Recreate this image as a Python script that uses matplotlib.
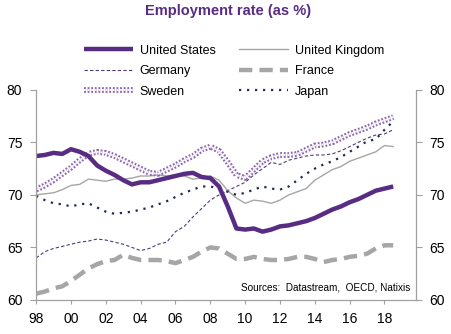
import numpy as np
import matplotlib
matplotlib.use("Agg")
import matplotlib.pyplot as plt
import matplotlib.patheffects as pe

plt.rcParams['font.family'] = ['Liberation Sans', 'DejaVu Sans']

# semi-annual points, 1998.0 -> 2018.5
years = np.arange(1998.0, 2019.0, 0.5)

us = [73.7, 73.8, 74.0, 73.9, 74.35, 74.1, 73.7, 72.8, 72.3, 71.9,
      71.4, 71.0, 71.2, 71.2, 71.4, 71.6, 71.8, 72.0, 72.1, 71.7,
      71.6, 70.8, 68.9, 66.8, 66.7, 66.8, 66.5, 66.7, 67.0, 67.1,
      67.3, 67.5, 67.8, 68.2, 68.6, 68.9, 69.3, 69.6, 70.0, 70.4,
      70.6, 70.8]
uk = [70.0, 70.1, 70.2, 70.5, 70.9, 71.0, 71.5, 71.4, 71.3, 71.5,
      71.5, 71.6, 71.8, 71.8, 71.9, 71.8, 71.9, 71.8, 71.5, 71.6,
      71.8, 71.4, 70.4, 69.7, 69.2, 69.5, 69.4, 69.2, 69.5, 70.0,
      70.3, 70.6, 71.4, 71.9, 72.4, 72.7, 73.2, 73.5, 73.8, 74.1,
      74.7, 74.6]
germany = [64.0, 64.6, 64.9, 65.1, 65.3, 65.5, 65.6, 65.8, 65.7, 65.5,
           65.3, 65.0, 64.7, 64.9, 65.3, 65.5, 66.5, 67.0, 67.9, 68.7,
           69.5, 70.0, 70.4, 70.8, 71.2, 71.9, 72.5, 73.1, 72.9, 73.3,
           73.5, 73.7, 73.8, 73.8, 73.9, 74.2, 74.6, 75.0, 75.4, 75.7,
           75.8, 76.2]
france = [60.6, 60.8, 61.1, 61.3, 61.8, 62.4, 63.0, 63.4, 63.7, 63.8,
          64.3, 64.0, 63.8, 63.8, 63.8, 63.7, 63.5, 63.8, 64.1, 64.6,
          65.0, 64.9, 64.4, 63.9, 63.9, 64.1, 63.9, 63.8, 63.8, 63.9,
          64.1, 64.1, 63.9, 63.6, 63.8, 63.9, 64.1, 64.2, 64.4, 64.9,
          65.2, 65.2]
sweden = [70.5, 70.9, 71.4, 72.0, 72.6, 73.3, 73.9, 74.1, 74.0, 73.7,
          73.3, 72.9, 72.5, 72.1, 72.0, 72.4, 72.8, 73.3, 73.7, 74.3,
          74.6, 74.2, 73.1, 71.9, 71.6, 72.4, 73.2, 73.6, 73.8, 73.8,
          73.9, 74.3, 74.7, 74.8, 75.0, 75.4, 75.8, 76.1, 76.4, 76.8,
          77.1, 77.4]
japan = [69.9, 69.5, 69.2, 69.1, 68.9, 69.1, 69.2, 68.8, 68.4, 68.2,
         68.3, 68.4, 68.6, 68.8, 69.1, 69.4, 69.8, 70.2, 70.5, 70.8,
         70.8, 70.6, 70.3, 70.0, 70.2, 70.5, 70.8, 70.6, 70.5, 70.8,
         71.4, 72.0, 72.5, 72.9, 73.2, 73.6, 74.1, 74.6, 75.1, 75.3,
         76.2, 77.0]

xticks = np.arange(1998, 2019, 2)
xlabels = ['98', '00', '02', '04', '06', '08', '10', '12', '14', '16', '18']
yticks = [60, 65, 70, 75, 80]

purple = '#582C83'
grey = '#A6A6A6'
axis_col = '#A0A0A0'

fig = plt.figure(figsize=(4.52, 3.34), dpi=100)
ax = fig.add_axes([0.080, 0.102, 0.840, 0.629])

h_fr, = ax.plot(years, france, color=grey, lw=3.2, ls=(0, (3, 1.6)),
                label='France')
h_de, = ax.plot(years, germany, color='#4E3A7A', lw=0.8, ls=(0, (3, 2)),
                label='Germany')
h_uk, = ax.plot(years, uk, color=grey, lw=1.0, label='United Kingdom')
h_jp, = ax.plot(years, japan, color='#1F2A55', lw=1.6, ls=(0, (1, 2.6)),
                label='Japan')
h_se, = ax.plot(years, sweden, color='white', lw=1.3, ls=(0, (1, 1)),
                label='Sweden',
                path_effects=[pe.Stroke(linewidth=4.2, foreground='#8E66B0'),
                              pe.Normal()])
h_us, = ax.plot(years, us, color=purple, lw=3.2, label='United States',
                solid_capstyle='butt')

ax.set_xlim(1998, 2019.8)
ax.set_ylim(60, 80)
ax.set_xticks(xticks)
ax.set_xticklabels(xlabels, fontsize=10)
ax.set_yticks(yticks)
ax.tick_params(axis='y', labelsize=10, length=4, color=axis_col, pad=6)
ax.tick_params(axis='x', length=3, color=axis_col, pad=6)
ax.spines['top'].set_visible(False)
for s in ['left', 'bottom', 'right']:
    ax.spines[s].set_color(axis_col)
    ax.spines[s].set_linewidth(0.9)

ax2 = ax.twinx()
ax2.set_ylim(60, 80)
ax2.set_yticks(yticks)
ax2.tick_params(axis='y', labelsize=10, length=4, color=axis_col, pad=6)
for s in ax2.spines.values():
    s.set_visible(False)

ax.text(0.985, 0.035, 'Sources:  Datastream,  OECD, Natixis', fontsize=7.2,
        ha='right', va='bottom', transform=ax.transAxes)

fig.text(0.505, 0.968, 'Employment rate (as %)', ha='center', va='center',
         fontsize=10.5, fontweight='bold', color=purple)

fig.legend(handles=[h_us, h_de, h_se, h_uk, h_fr, h_jp], ncol=2,
           loc='upper left', bbox_to_anchor=(0.172, 0.885), frameon=False,
           fontsize=9, handlelength=3.9, handletextpad=0.55,
           columnspacing=1.9, labelspacing=0.68, borderpad=0)

fig.savefig('out.png', dpi=100)
